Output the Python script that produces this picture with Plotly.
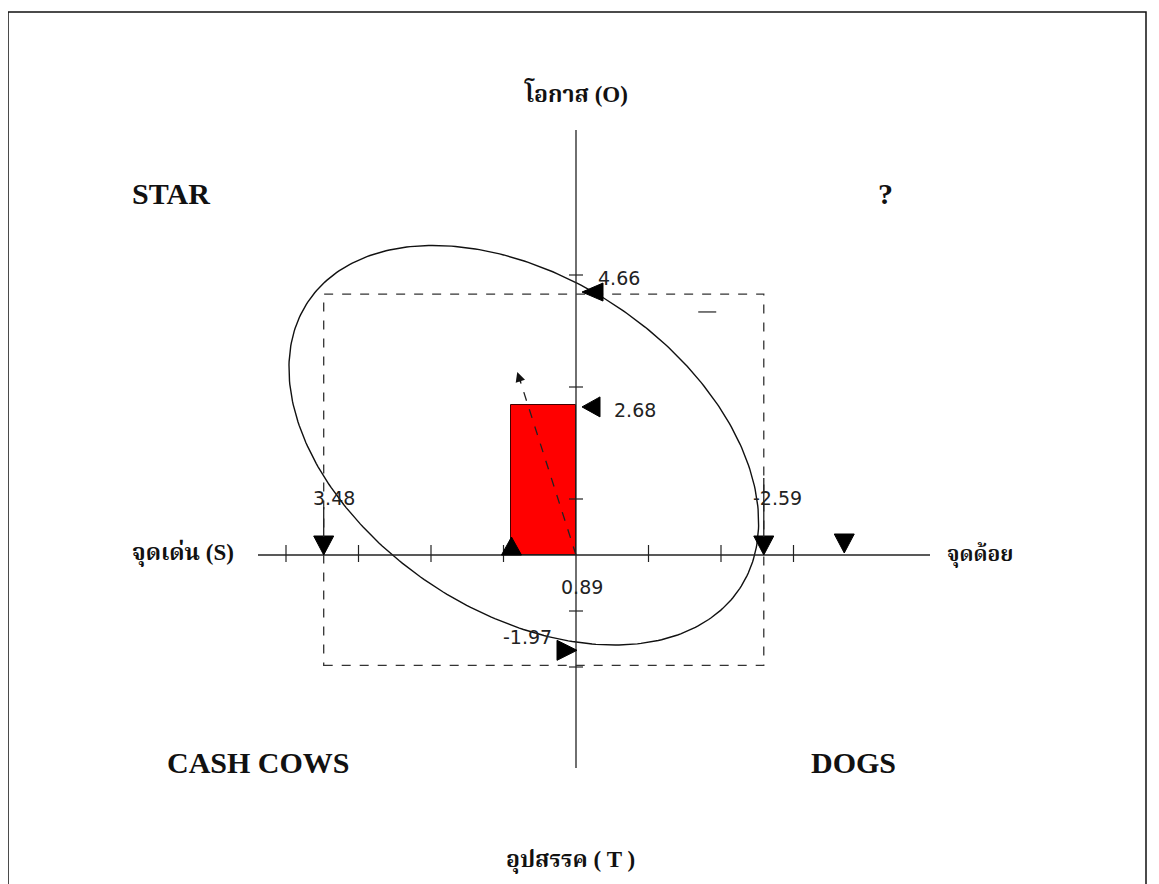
import numpy as np
import plotly.graph_objects as go

# SWOT scores (x axis: strengths positive to the left, weaknesses negative to the right)
strength = 3.48
weakness = -2.59
opportunity = 4.66
threat = -1.97
net_x = 0.89
net_y = 2.68
extra_marker_x = -3.7

x_ticks = [4, 3, 2, 1, -1, -2, -3]
y_ticks = [5, 3, 1, -1, -2]

quadrant_names = ["STAR", "?", "CASH COWS", "DOGS"]
axis_names = ["โอกาส (O)", "อุปสรรค ( T )", "จุดเด่น (S)", "จุดด้อย"]

# strategy arrow tip, small dash mark and the ellipse (centre + two half-diameters)
arrow_tip = [0.81, 3.27]
dash_mark = [-1.81, 4.34]
ellipse_center = [0.72, 1.96]
ellipse_u = [-2.98, -2.555]
ellipse_v = [1.27, -2.49]

W, H = 1159, 884
OFF = 8                     # page body margin
X0, Y0 = 576 - OFF, 555 - OFF   # pixel position of the origin inside the figure
SX, SY = 72.5, 56.0        # pixels per unit


def px(x):
    return (x - OFF) / W


def py(y):
    return 1 - (y - OFF) / H


NUM_FONT = dict(family="DejaVu Sans", size=19, color="#222")
BIG_FONT = dict(family="Liberation Serif", size=30, color="#111")
THAI_FAMILY = "Liberation Serif, Noto Serif Thai, Noto Sans Thai, serif"

fig = go.Figure()

## red bar
fig.add_trace(go.Bar(x=[0], y=[net_y], width=[net_x], offset=0,
                     marker=dict(color="#ff0000", line=dict(color="#400", width=1)),
                     showlegend=False, hoverinfo="skip"))

## ellipse
t = np.linspace(0, 2 * np.pi, 361)
ex = ellipse_center[0] + ellipse_u[0] * np.cos(t) + ellipse_v[0] * np.sin(t)
ey = ellipse_center[1] + ellipse_u[1] * np.cos(t) + ellipse_v[1] * np.sin(t)
fig.add_trace(go.Scatter(x=ex, y=ey, mode="lines", line=dict(color="#111", width=1.4),
                         showlegend=False, hoverinfo="skip"))

shapes = []
## outer frame
shapes.append(dict(type="rect", xref="paper", yref="paper", x0=px(8), x1=px(1146),
                   y0=-0.05, y1=py(12), line=dict(color="#111", width=1.5)))
## axes
shapes.append(dict(type="line", x0=(576 - 258) / SX, x1=-(930 - 576) / SX, y0=0, y1=0,
                   line=dict(color="#222", width=1.3)))
shapes.append(dict(type="line", x0=0, x1=0, y0=(555 - 130) / SY, y1=-(768 - 555) / SY,
                   line=dict(color="#222", width=1.3)))
## ticks
for v in x_ticks:
    shapes.append(dict(type="line", xref="x", yref="y", x0=v, x1=v, ysizemode="pixel",
                       yanchor=0, y0=-7, y1=10, line=dict(color="#222", width=1.2)))
for v in y_ticks:
    shapes.append(dict(type="line", xref="x", yref="y", y0=v, y1=v, xsizemode="pixel",
                       xanchor=0, x0=-7, x1=7, line=dict(color="#222", width=1.2)))
## dashed box
shapes.append(dict(type="rect", x0=strength, x1=weakness, y0=threat, y1=opportunity,
                   line=dict(color="#333", width=1.3, dash="dash")))
## direction arrow (dashed shaft)
shapes.append(dict(type="line", x0=0, y0=0, x1=arrow_tip[0], y1=arrow_tip[1],
                   line=dict(color="#222", width=1.3, dash="dash")))
## small dash
shapes.append(dict(type="line", xsizemode="pixel", xanchor=dash_mark[0], x0=-9, x1=9,
                   y0=dash_mark[1], y1=dash_mark[1], line=dict(color="#222", width=1.2)))


def tri(xa, ya, path):
    return dict(type="path", xsizemode="pixel", ysizemode="pixel", xanchor=xa, yanchor=ya,
                path=path, fillcolor="#000", line=dict(color="#000", width=1))


shapes.append(tri(strength, 0, "M -10,19 L 10,19 L 0,0 Z"))
shapes.append(tri(weakness, 0, "M -10,19 L 10,19 L 0,0 Z"))
shapes.append(tri(extra_marker_x, 0, "M -10,21 L 10,21 L 0,2 Z"))
shapes.append(tri(net_x, 0, "M -10,0 L 10,0 L 0,18 Z"))
shapes.append(tri(0, opportunity, "M 6,2 L 27,11 L 27,-7 Z"))
shapes.append(tri(0, net_y, "M 6,-2 L 24,8 L 24,-12 Z"))
shapes.append(tri(0, threat, "M 1,15 L -19,25 L -19,5 Z"))
## short leader lines above the down triangles
for xv, top in [(strength, 48), (weakness, 77)]:
    shapes.append(dict(type="line", x0=xv, x1=xv, ysizemode="pixel", yanchor=0, y0=18, y1=top,
                       line=dict(color="#222", width=1.3)))

annotations = []
## value labels
for txt, xv, yv, dx, dy in [
    (f"{opportunity:.2f}", 0, opportunity, 43, 16),
    (f"{net_y:.2f}", 0, net_y, 59, -5),
    (f"{strength:.2f}", strength, 0, 10, 57),
    (f"{weakness:.2f}", weakness, 0, 14, 57),
    (f"{net_x:.2f}", net_x, 0, 71, -32),
    (f"{threat:.2f}", 0, threat, -49, 28),
]:
    annotations.append(dict(x=xv, y=yv, text=txt, showarrow=False, xshift=dx, yshift=dy,
                            xanchor="center", yanchor="middle", font=NUM_FONT))
## arrow head of direction arrow
annotations.append(dict(x=arrow_tip[0], y=arrow_tip[1], ax=4, ay=12, axref="pixel", ayref="pixel",
                        text="", showarrow=True, arrowhead=2, arrowsize=1.4, arrowwidth=1.4,
                        arrowcolor="#111"))
## quadrant names
for txt, x, y in zip(quadrant_names, [171, 886, 258, 853], [193, 193, 762, 762]):
    annotations.append(dict(xref="paper", yref="paper", x=px(x), y=py(y), text=f"<b>{txt}</b>",
                            xanchor="center", yanchor="middle", showarrow=False, font=BIG_FONT))
## axis names
for txt, x, y, size in zip(axis_names, [576, 570, 183, 980], [93, 860, 553, 555], [23, 23, 23, 21]):
    annotations.append(dict(xref="paper", yref="paper", x=px(x), y=py(y), text=f"<b>{txt}</b>",
                            xanchor="center", yanchor="middle", showarrow=False,
                            font=dict(family=THAI_FAMILY, size=size, color="#111")))

fig.update_layout(
    width=W, height=H, margin=dict(l=0, r=0, t=0, b=0),
    paper_bgcolor="white", plot_bgcolor="white",
    xaxis=dict(range=[X0 / SX, -(W - X0) / SX], visible=False, fixedrange=True),
    yaxis=dict(range=[-(H - Y0) / SY, Y0 / SY], visible=False, fixedrange=True),
    shapes=shapes, annotations=annotations, bargap=0,
)

fig.write_html("out.html")
